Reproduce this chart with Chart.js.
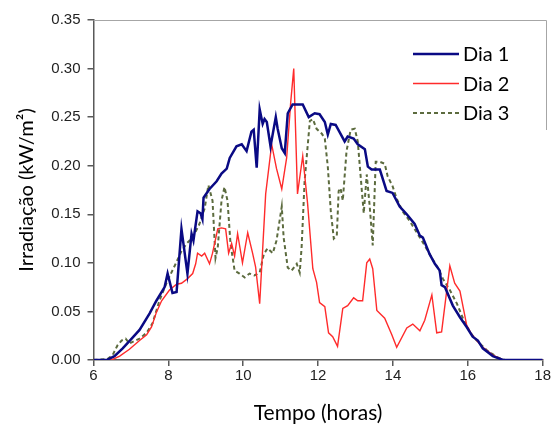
<!DOCTYPE html>
<html>
<head>
<meta charset="utf-8">
<script src="https://cdn.jsdelivr.net/npm/chart.js@4.4.0/dist/chart.umd.min.js"></script>
<style>
    html, body { margin: 0; padding: 0; background: #fff; }
</style>
</head>
<body>
<canvas id="chart" width="552" height="426"></canvas>
<script>
const SERIES_LABELS = ['Dia 1', 'Dia 2', 'Dia 3'];
const X_TITLE = 'Tempo (horas)';
const Y_TITLE = 'Irradiação (kW/m²)';

const day1Hours = [6.00, 6.35, 6.56, 6.78, 7.02, 7.23, 7.50, 7.68, 7.90, 7.98, 8.11, 8.22, 8.35, 8.51, 8.62, 8.67,
    8.78, 8.86, 8.91, 8.94, 9.10, 9.29, 9.42, 9.56, 9.64, 9.82, 9.96, 10.09, 10.22, 10.28, 10.36, 10.44,
    10.52, 10.57, 10.63, 10.73, 10.87, 10.92, 11.03, 11.11, 11.19, 11.32, 11.59, 11.75, 11.91, 12.04, 12.18,
    12.26, 12.34, 12.47, 12.71, 12.79, 12.95, 13.06, 13.25, 13.33, 13.43, 13.65, 13.83, 13.99, 14.18, 14.37,
    14.58, 14.72, 14.80, 14.98, 15.12, 15.25, 15.30, 15.39, 15.60, 15.79, 15.97, 16.13, 16.27, 16.40, 16.67,
    16.94, 18.00];
const day1Values = [0, 0, 0.004, 0.012, 0.022, 0.031, 0.048, 0.061, 0.075, 0.089, 0.069, 0.070, 0.135, 0.089, 0.130, 0.123,
    0.153, 0.151, 0.145, 0.167, 0.176, 0.184, 0.192, 0.197, 0.208, 0.220, 0.222, 0.215, 0.235, 0.237, 0.198, 0.258,
    0.243, 0.248, 0.245, 0.220, 0.250, 0.238, 0.218, 0.213, 0.254, 0.263, 0.263, 0.250, 0.254, 0.253, 0.245,
    0.232, 0.243, 0.242, 0.225, 0.230, 0.228, 0.222, 0.217, 0.199, 0.196, 0.196, 0.174, 0.172, 0.158, 0.150,
    0.140, 0.128, 0.126, 0.109, 0.099, 0.092, 0.077, 0.075, 0.056, 0.044, 0.034, 0.024, 0.020, 0.012, 0.004,
    0, 0];

const day2Hours = [6.00, 6.48, 6.70, 6.96, 7.23, 7.42, 7.55, 7.68, 7.82, 8.03, 8.22, 8.35, 8.49, 8.65, 8.73, 8.78,
    8.89, 8.97, 9.10, 9.18, 9.32, 9.42, 9.53, 9.61, 9.69, 9.77, 9.85, 9.98, 10.12, 10.25, 10.33, 10.44,
    10.60, 10.76, 10.89, 11.03, 11.16, 11.27, 11.35, 11.45, 11.59, 11.72, 11.86, 11.96, 12.04, 12.18, 12.28,
    12.39, 12.52, 12.66, 12.79, 12.95, 13.06, 13.19, 13.30, 13.38, 13.46, 13.57, 13.78, 13.97, 14.10, 14.37,
    14.53, 14.72, 14.85, 15.04, 15.17, 15.30, 15.52, 15.65, 15.79, 15.97, 16.11, 16.24, 16.40, 16.67, 16.94,
    18.00];
const day2Values = [0, 0, 0.004, 0.011, 0.020, 0.026, 0.034, 0.049, 0.061, 0.072, 0.078, 0.079, 0.083, 0.089, 0.099, 0.110,
    0.107, 0.110, 0.099, 0.110, 0.135, 0.136, 0.135, 0.110, 0.120, 0.107, 0.130, 0.100, 0.131, 0.110, 0.096, 0.058,
    0.171, 0.222, 0.197, 0.176, 0.208, 0.266, 0.300, 0.171, 0.210, 0.161, 0.094, 0.080, 0.059, 0.055, 0.028,
    0.024, 0.014, 0.053, 0.056, 0.064, 0.061, 0.061, 0.100, 0.104, 0.094, 0.051, 0.043, 0.026, 0.013, 0.033,
    0.037, 0.030, 0.041, 0.067, 0.028, 0.029, 0.097, 0.079, 0.071, 0.036, 0.026, 0.020, 0.013, 0.005, 0,
    0];

const day3Hours = [6.00, 6.37, 6.51, 6.64, 6.75, 6.86, 6.96, 7.23, 7.42, 7.58, 7.76, 7.98, 8.17, 8.35, 8.49, 8.65,
    8.83, 8.97, 9.07, 9.18, 9.26, 9.32, 9.42, 9.50, 9.58, 9.66, 9.77, 9.90, 10.04, 10.17, 10.30, 10.44,
    10.55, 10.65, 10.79, 10.89, 11.03, 11.08, 11.19, 11.29, 11.43, 11.51, 11.56, 11.64, 11.78, 11.86, 11.96,
    12.10, 12.18, 12.26, 12.34, 12.42, 12.50, 12.55, 12.60, 12.66, 12.76, 12.87, 12.98, 13.06, 13.17, 13.22,
    13.30, 13.38, 13.46, 13.54, 13.65, 13.78, 13.86, 13.99, 14.10, 14.26, 14.45, 14.64, 14.80, 15.04, 15.20,
    15.33, 15.52, 15.71, 15.87, 16.05, 16.24, 16.51, 16.78, 16.99, 18.00];
const day3Values = [0, 0.001, 0.005, 0.015, 0.020, 0.022, 0.017, 0.022, 0.028, 0.038, 0.061, 0.082, 0.097, 0.112, 0.120, 0.126,
    0.140, 0.156, 0.180, 0.164, 0.105, 0.116, 0.164, 0.178, 0.164, 0.120, 0.092, 0.089, 0.085, 0.089, 0.087, 0.090,
    0.109, 0.115, 0.110, 0.123, 0.158, 0.126, 0.095, 0.092, 0.099, 0.090, 0.116, 0.184, 0.246, 0.248, 0.238,
    0.233, 0.228, 0.199, 0.153, 0.125, 0.128, 0.174, 0.177, 0.164, 0.215, 0.237, 0.238, 0.225, 0.174, 0.151,
    0.191, 0.158, 0.118, 0.204, 0.204, 0.202, 0.189, 0.179, 0.166, 0.153, 0.143, 0.131, 0.121, 0.105, 0.095,
    0.084, 0.072, 0.058, 0.043, 0.029, 0.020, 0.010, 0.003, 0, 0];

const X_MIN = 6, X_MAX = 18, X_STEP = 2;
const Y_MIN = 0, Y_MAX = 0.35, Y_STEP = 0.05;

const AXIS_COLOR = '#595959';
const TICK_FONT = {family: "'Liberation Sans', Arial, sans-serif", size: 15};
const TITLE_FONT = "'Lato', 'Open Sans', sans-serif";

const toPoints = (hours, values) => hours.map((h, i) => ({x: h, y: values[i]}));

// top border line + legend drawn by hand, positioned like the original
const frameAndLegend = {
    id: 'frameAndLegend',
    afterDraw(chart) {
        const {ctx, chartArea} = chart;
        ctx.save();
        ctx.strokeStyle = '#a6a6a6';
        ctx.lineWidth = 1;
        ctx.beginPath();
        ctx.moveTo(chartArea.left, 20.5);
        ctx.lineTo(546.5, 20.5);
        ctx.lineTo(546.5, 130);
        ctx.stroke();

        chart.data.datasets.forEach((ds, i) => {
            const y = 54 + i * 29.5;
            ctx.strokeStyle = ds.borderColor;
            ctx.lineWidth = ds.borderWidth;
            ctx.setLineDash(ds.borderDash || []);
            ctx.beginPath();
            ctx.moveTo(413, y);
            ctx.lineTo(459, y);
            ctx.stroke();
            ctx.setLineDash([]);
            ctx.fillStyle = '#000';
            ctx.font = `20px ${TITLE_FONT}`;
            ctx.textBaseline = 'middle';
            ctx.textAlign = 'left';
            ctx.fillText(ds.label, 463, y + 1);
        });
        ctx.restore();
    }
};

new Chart(document.getElementById('chart'), {
    type: 'line',
    data: {
        datasets: [
            {
                label: SERIES_LABELS[0],
                data: toPoints(day1Hours, day1Values),
                borderColor: '#0a0a84',
                borderWidth: 2.5,
            },
            {
                label: SERIES_LABELS[1],
                data: toPoints(day2Hours, day2Values),
                borderColor: '#ff2b2b',
                borderWidth: 1.4,
            },
            {
                label: SERIES_LABELS[2],
                data: toPoints(day3Hours, day3Values),
                borderColor: '#5c6b3e',
                borderWidth: 2,
                borderDash: [4, 3],
            },
        ]
    },
    options: {
        responsive: false,
        animation: false,
        elements: {
            point: {radius: 0},
            line: {tension: 0, fill: false},
        },
        layout: {padding: {top: 20, right: 8, left: 0, bottom: 0}},
        plugins: {
            legend: {display: false},
            tooltip: {enabled: false},
        },
        scales: {
            x: {
                type: 'linear',
                min: X_MIN,
                max: X_MAX,
                afterFit: scale => { scale.height = 66; },
                ticks: {
                    stepSize: X_STEP,
                    color: '#222',
                    font: TICK_FONT,
                    padding: 1,
                    maxRotation: 0,
                },
                grid: {drawOnChartArea: false, tickLength: 6, color: AXIS_COLOR, lineWidth: 1.5},
                border: {color: AXIS_COLOR, width: 1.5},
                title: {
                    display: true,
                    text: X_TITLE,
                    color: '#000',
                    font: {family: TITLE_FONT, size: 21},
                    padding: {top: 2, bottom: 0},
                },
            },
            y: {
                min: Y_MIN,
                max: Y_MAX,
                afterFit: scale => { scale.width = 93.5; },
                ticks: {
                    stepSize: Y_STEP,
                    color: '#222',
                    font: TICK_FONT,
                    padding: 7,
                    callback: v => v.toFixed(2),
                },
                grid: {drawOnChartArea: false, tickLength: 6, color: AXIS_COLOR, lineWidth: 1.5},
                border: {color: AXIS_COLOR, width: 1.5},
                title: {
                    display: true,
                    text: Y_TITLE,
                    color: '#000',
                    font: {family: TITLE_FONT, size: 20},
                    padding: {top: 15, bottom: 0},
                },
            },
        },
    },
    plugins: [frameAndLegend],
});
</script>
</body>
</html>
